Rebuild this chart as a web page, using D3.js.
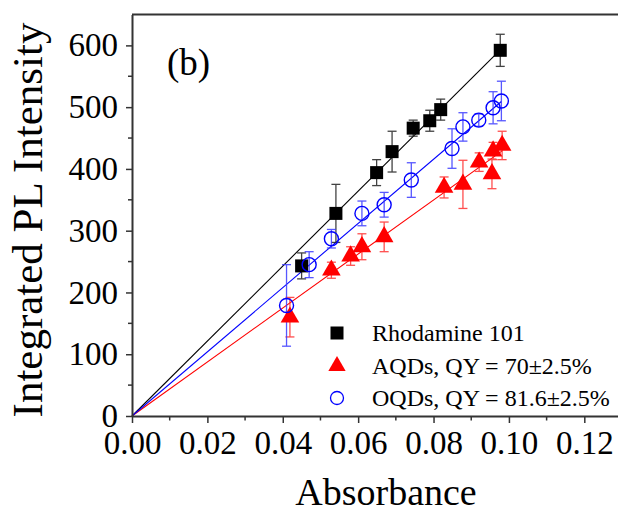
<!DOCTYPE html>
<html>
<head>
<meta charset="utf-8">
<script src="https://cdn.jsdelivr.net/npm/d3@7"></script>
<style>
  html, body { margin: 0; padding: 0; background: #fff; }
  svg { display: block; }
  text { font-family: "Liberation Serif", "Times New Roman", serif; fill: #000; }
</style>
</head>
<body>
<svg id="chart" width="618" height="510"></svg>
<script>
// Rhodamine 101 reference dye
const rhoAbs = [0.0450, 0.0541, 0.0649, 0.0690, 0.0746, 0.0790, 0.0819, 0.0977];
const rhoPL  = [243, 328, 394, 428, 466, 478, 496, 592];
const rhoErr = [21, 47, 21, 33, 13, 17, 17, 26];

// AQDs
const aqdAbs = [0.0419, 0.0529, 0.0580, 0.0610, 0.0669, 0.0828, 0.0878, 0.0921, 0.0955, 0.0958, 0.0982];
const aqdPL  = [160, 236, 259, 274, 290, 370, 375, 411, 392, 429, 438];
const aqdErr = [32, 13, 15, 21, 24, 17, 39, 15, 24, 14, 23];

// OQDs
const oqdAbs = [0.0410, 0.0470, 0.0529, 0.0610, 0.0669, 0.0741, 0.0849, 0.0878, 0.0920, 0.0958, 0.0980];
const oqdPL  = [179, 245, 287, 328, 342, 382, 433, 468, 479, 499, 510];
const oqdErr = [66, 21, 15, 20, 20, 28, 32, 23, 10, 26, 32];

const legendLabels = ["Rhodamine 101", "AQDs, QY = 70\u00b12.5%", "OQDs, QY = 81.6\u00b12.5%"];
const xTicks = [0, 0.02, 0.04, 0.06, 0.08, 0.10, 0.12];
const yTicks = [0, 100, 200, 300, 400, 500, 600];

const svg = d3.select("#chart");

const x = d3.scaleLinear().domain([0, 0.13]).range([132, 622]);
const y = d3.scaleLinear().domain([0, 650]).range([416, 14.5]);

const series = [
  { abs: rhoAbs, pl: rhoPL, err: rhoErr, color: "#000000", errColor: "#222222", shape: "square" },
  { abs: aqdAbs, pl: aqdPL, err: aqdErr, color: "#ff0000", errColor: "#ff3030", shape: "triangle" },
  { abs: oqdAbs, pl: oqdPL, err: oqdErr, color: "#0000ff", errColor: "#3a3aff", shape: "circle" }
];

// Least-squares line through the origin for each series
series.forEach(s => {
  const sxy = d3.sum(s.abs, (a, i) => a * s.pl[i]);
  const sxx = d3.sum(s.abs, a => a * a);
  s.slope = sxy / sxx;
  s.xmax = d3.max(s.abs);
});

// Frame: top edge
svg.append("line")
  .attr("x1", 132).attr("x2", 618)
  .attr("y1", y(650)).attr("y2", y(650))
  .attr("stroke", "#333").attr("stroke-width", 2);

// Fit lines
const fitG = svg.append("g");
series.forEach(s => {
  fitG.append("line")
    .attr("x1", x(0)).attr("y1", y(0))
    .attr("x2", x(s.xmax)).attr("y2", y(s.slope * s.xmax))
    .attr("stroke", s.color).attr("stroke-width", 1.1);
});

// Error bars
series.forEach(s => {
  const g = svg.append("g").attr("stroke", s.errColor).attr("stroke-width", 1.3).attr("opacity", 0.85);
  s.abs.forEach((a, i) => {
    const cx = x(a), top = y(s.pl[i] + s.err[i]), bot = y(s.pl[i] - s.err[i]);
    g.append("line").attr("x1", cx).attr("x2", cx).attr("y1", top).attr("y2", bot);
    g.append("line").attr("x1", cx - 4.5).attr("x2", cx + 4.5).attr("y1", top).attr("y2", top);
    g.append("line").attr("x1", cx - 4.5).attr("x2", cx + 4.5).attr("y1", bot).attr("y2", bot);
  });
});

function drawMarker(g, shape, cx, cy, color) {
  if (shape === "square") {
    g.append("rect").attr("x", cx - 6.5).attr("y", cy - 6.5)
      .attr("width", 13).attr("height", 13).attr("fill", color);
  } else if (shape === "triangle") {
    g.append("path")
      .attr("transform", `translate(${cx},${cy})`)
      .attr("d", d3.symbol().type(d3.symbolTriangle).size(150)())
      .attr("fill", color);
  } else {
    g.append("circle").attr("cx", cx).attr("cy", cy).attr("r", 7)
      .attr("fill", "none").attr("stroke", color).attr("stroke-width", 1.4);
  }
}

// Markers
series.forEach(s => {
  const g = svg.append("g");
  s.abs.forEach((a, i) => drawMarker(g, s.shape, x(a), y(s.pl[i]), s.color));
});

// Axes
const xAxis = d3.axisBottom(x).tickValues(xTicks).tickFormat(d3.format(".2f"))
  .tickSizeInner(7).tickSizeOuter(0).tickPadding(8);
const yAxis = d3.axisLeft(y).tickValues(yTicks).tickFormat(d3.format("d"))
  .tickSizeInner(6).tickSizeOuter(0).tickPadding(8);

const gx = svg.append("g").attr("transform", "translate(0,416)").call(xAxis);
const gy = svg.append("g").attr("transform", "translate(132,0)").call(yAxis);

[gx, gy].forEach(g => {
  g.select(".domain").attr("stroke", "#333").attr("stroke-width", 2);
  g.selectAll(".tick line").attr("stroke", "#333").attr("stroke-width", 1.5);
  g.selectAll(".tick text")
    .style("font-family", '"Liberation Serif", "Times New Roman", serif')
    .style("font-size", "33px").attr("fill", "#000");
});

// Minor ticks
const xMinor = d3.range(0.01, 0.13, 0.02);
const yMinor = d3.range(50, 650, 100);
svg.append("g").selectAll("line").data(xMinor).join("line")
  .attr("x1", d => x(d)).attr("x2", d => x(d))
  .attr("y1", 416).attr("y2", 420.5)
  .attr("stroke", "#333").attr("stroke-width", 1.5);
svg.append("g").selectAll("line").data(yMinor).join("line")
  .attr("x1", 132).attr("x2", 128)
  .attr("y1", d => y(d)).attr("y2", d => y(d))
  .attr("stroke", "#333").attr("stroke-width", 1.5);

// Axis titles
svg.append("text")
  .attr("x", 386).attr("y", 505)
  .attr("text-anchor", "middle")
  .style("font-size", "38px")
  .text("Absorbance");

svg.append("text")
  .attr("transform", "translate(42,220) rotate(-90)")
  .attr("text-anchor", "middle")
  .style("font-size", "43px")
  .text("Integrated PL Intensity");

// Panel label
svg.append("text")
  .attr("x", 167).attr("y", 75)
  .style("font-size", "37px")
  .text("(b)");

// Legend
const legend = svg.append("g");
const legendRows = [333, 366, 398];
series.forEach((s, i) => {
  const cy = legendRows[i];
  if (s.shape === "square") {
    legend.append("rect").attr("x", 337 - 6.5).attr("y", cy - 6.5)
      .attr("width", 13).attr("height", 13).attr("fill", s.color);
  } else if (s.shape === "triangle") {
    legend.append("path")
      .attr("transform", `translate(337,${cy})`)
      .attr("d", d3.symbol().type(d3.symbolTriangle).size(130)())
      .attr("fill", s.color);
  } else {
    legend.append("circle").attr("cx", 337).attr("cy", cy).attr("r", 6.5)
      .attr("fill", "none").attr("stroke", s.color).attr("stroke-width", 1.3);
  }
  legend.append("text")
    .attr("x", 372).attr("y", cy + 8)
    .style("font-size", "24px")
    .text(legendLabels[i]);
});
</script>
</body>
</html>
